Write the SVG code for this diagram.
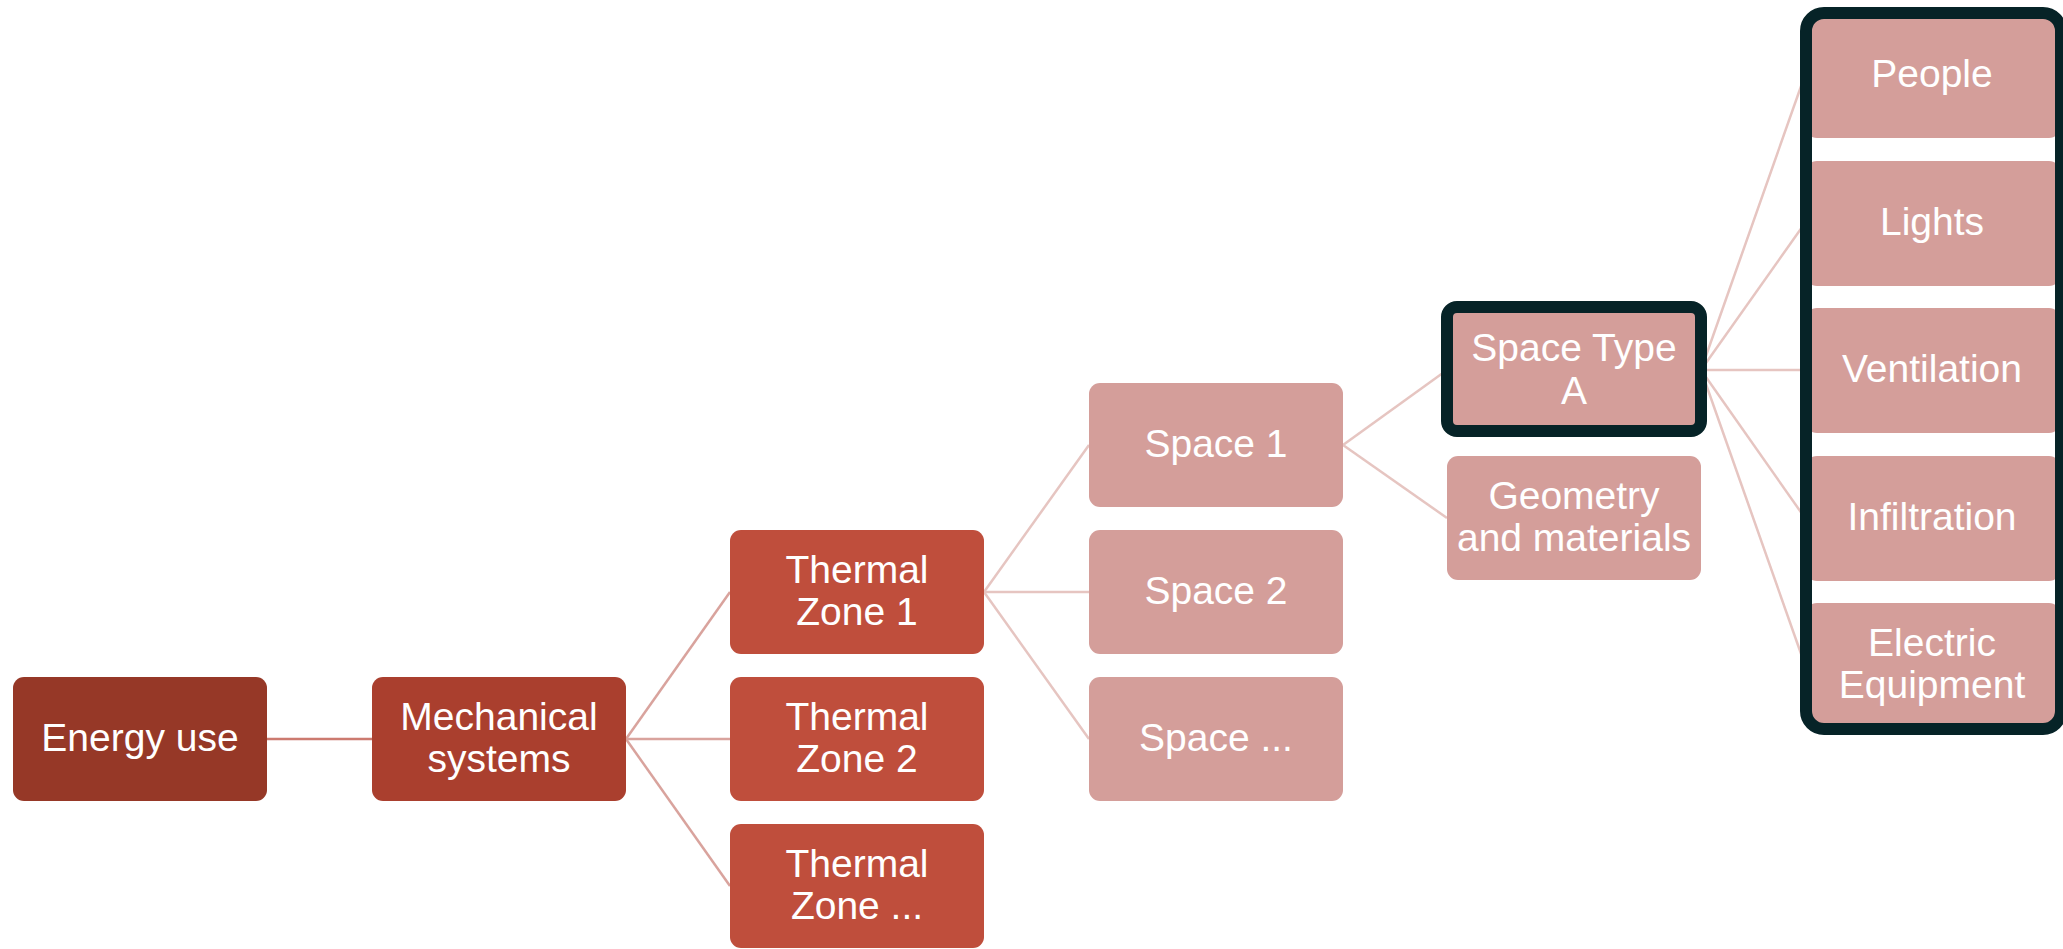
<svg xmlns="http://www.w3.org/2000/svg" width="2063" height="949" viewBox="0 0 2063 949">
<style>
  .box { stroke: none; }
  .n0 { fill: #963827; }
  .n1 { fill: #AA3F2E; }
  .n2 { fill: #BF4E3C; }
  .n3 { fill: #D49E9A; }
  .hl { fill: none; stroke: #062327; stroke-width: 12; }
  .t { font-family: "Liberation Sans", Arial, sans-serif; font-size: 39px; fill: #FFFFFF; text-anchor: middle; }
  .c1 { stroke: #CC7A6F; stroke-width: 2.5; fill: none; }
  .c2 { stroke: #D9A39D; stroke-width: 2.5; fill: none; }
  .c3 { stroke: #E6C5C1; stroke-width: 2.5; fill: none; }
</style>
<rect x="0" y="0" width="2063" height="949" fill="#FFFFFF"/>
<g id="connectors">
  <line class="c1" x1="267" y1="739" x2="372" y2="739"/>
  <line class="c2" x1="626" y1="739" x2="730" y2="592"/>
  <line class="c2" x1="626" y1="739" x2="730" y2="739"/>
  <line class="c2" x1="626" y1="739" x2="730" y2="886"/>
  <line class="c3" x1="984" y1="592" x2="1089" y2="445"/>
  <line class="c3" x1="984" y1="592" x2="1089" y2="592"/>
  <line class="c3" x1="984" y1="592" x2="1089" y2="739"/>
  <line class="c3" x1="1343" y1="445" x2="1447" y2="370"/>
  <line class="c3" x1="1343" y1="445" x2="1447" y2="518"/>
  <line class="c3" x1="1701" y1="370" x2="1805" y2="75"/>
  <line class="c3" x1="1701" y1="370" x2="1805" y2="223"/>
  <line class="c3" x1="1701" y1="370" x2="1805" y2="370"/>
  <line class="c3" x1="1701" y1="370" x2="1805" y2="518"/>
  <line class="c3" x1="1701" y1="370" x2="1805" y2="665"/>
</g>
<g id="energy-use">
  <rect class="box n0" x="13" y="677" width="254" height="124" rx="11"/>
  <text class="t" x="140" y="751">Energy use</text>
</g>
<g id="mechanical-systems">
  <rect class="box n1" x="372" y="677" width="254" height="124" rx="11"/>
  <text class="t" x="499" y="730">Mechanical</text>
  <text class="t" x="499" y="772">systems</text>
</g>
<g id="thermal-zone-1">
  <rect class="box n2" x="730" y="530" width="254" height="124" rx="11"/>
  <text class="t" x="857" y="583">Thermal</text>
  <text class="t" x="857" y="625">Zone 1</text>
</g>
<g id="thermal-zone-2">
  <rect class="box n2" x="730" y="677" width="254" height="124" rx="11"/>
  <text class="t" x="857" y="730">Thermal</text>
  <text class="t" x="857" y="772">Zone 2</text>
</g>
<g id="thermal-zone-n">
  <rect class="box n2" x="730" y="824" width="254" height="124" rx="11"/>
  <text class="t" x="857" y="877">Thermal</text>
  <text class="t" x="857" y="919">Zone ...</text>
</g>
<g id="space-1">
  <rect class="box n3" x="1089" y="383" width="254" height="124" rx="11"/>
  <text class="t" x="1216" y="457">Space 1</text>
</g>
<g id="space-2">
  <rect class="box n3" x="1089" y="530" width="254" height="124" rx="11"/>
  <text class="t" x="1216" y="604">Space 2</text>
</g>
<g id="space-n">
  <rect class="box n3" x="1089" y="677" width="254" height="124" rx="11"/>
  <text class="t" x="1216" y="751">Space ...</text>
</g>
<g id="space-type-a">
  <rect class="box n3" x="1447" y="307" width="254" height="124" rx="10"/>
  <rect class="hl" x="1447" y="307" width="254" height="124" rx="10"/>
  <text class="t" x="1574" y="361">Space Type</text>
  <text class="t" x="1574" y="404">A</text>
</g>
<g id="geometry-and-materials">
  <rect class="box n3" x="1447" y="456" width="254" height="124" rx="11"/>
  <text class="t" x="1574" y="509">Geometry</text>
  <text class="t" x="1574" y="551">and materials</text>
</g>
<g id="people">
  <rect class="box n3" x="1806" y="13" width="254" height="125" rx="11"/>
  <text class="t" x="1932" y="87">People</text>
</g>
<g id="lights">
  <rect class="box n3" x="1806" y="161" width="254" height="125" rx="11"/>
  <text class="t" x="1932" y="235">Lights</text>
</g>
<g id="ventilation">
  <rect class="box n3" x="1806" y="308" width="254" height="125" rx="11"/>
  <text class="t" x="1932" y="382">Ventilation</text>
</g>
<g id="infiltration">
  <rect class="box n3" x="1806" y="456" width="254" height="125" rx="11"/>
  <text class="t" x="1932" y="530">Infiltration</text>
</g>
<g id="electric-equipment">
  <rect class="box n3" x="1806" y="603" width="254" height="125" rx="11"/>
  <text class="t" x="1932" y="656">Electric</text>
  <text class="t" x="1932" y="698">Equipment</text>
</g>
<g id="space-type-loads-highlight">
  <rect class="hl" x="1806" y="13" width="255" height="716" rx="18"/>
</g>
</svg>
